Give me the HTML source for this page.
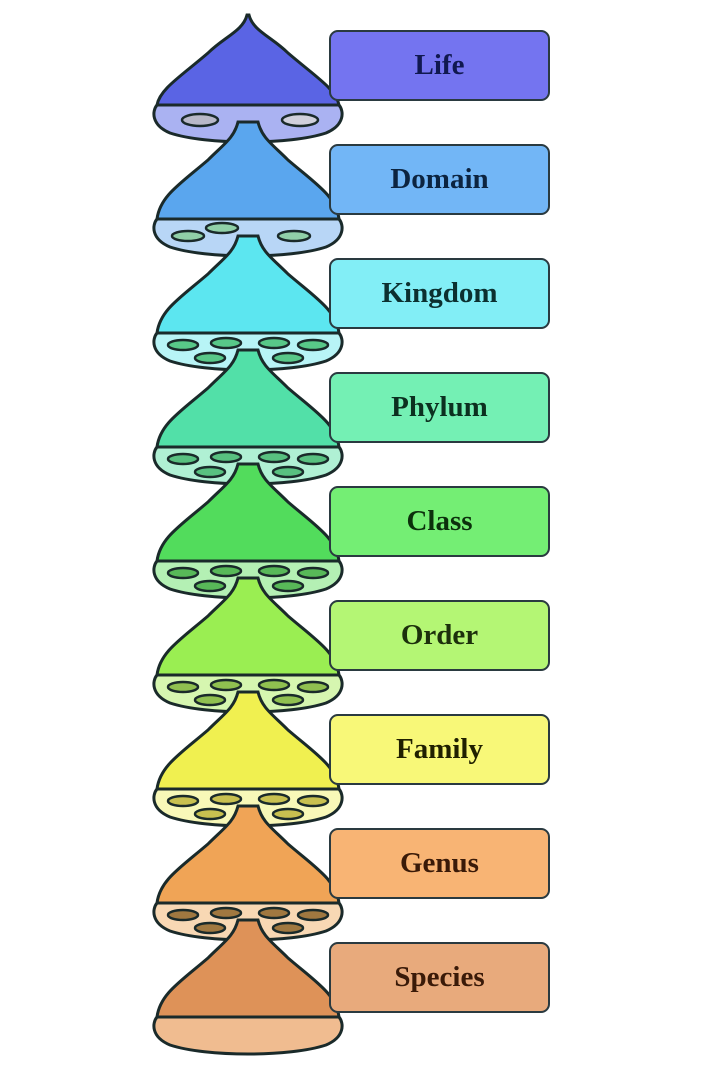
<!DOCTYPE html>
<html><head><meta charset="utf-8"><style>
html,body{margin:0;padding:0;background:#fff;width:720px;height:1068px;overflow:hidden;position:relative}
svg{position:absolute;left:0;top:0}
.b{position:absolute;left:329px;border:2px solid #2a3a40;border-radius:9px;
font-family:"Liberation Serif",serif;font-weight:bold;font-size:29px;color:#14202a;
display:flex;align-items:center;justify-content:center;box-sizing:border-box;width:221px;height:71px}
</style></head><body>
<svg id="s" width="720" height="1068" viewBox="0 0 720 1068"></svg>
<div class="b" style="top:30px;background:#7474f0;color:#101850">Life</div>
<div class="b" style="top:144px;background:#72b6f6;color:#0c2440">Domain</div>
<div class="b" style="top:258px;background:#82eef6;color:#0c3030">Kingdom</div>
<div class="b" style="top:372px;background:#74f0b4;color:#0c3020">Phylum</div>
<div class="b" style="top:486px;background:#74ee74;color:#0c300c">Class</div>
<div class="b" style="top:600px;background:#b4f674;color:#1c300c">Order</div>
<div class="b" style="top:714px;background:#f8f878;color:#202000">Family</div>
<div class="b" style="top:828px;background:#f8b474;color:#3a1a08">Genus</div>
<div class="b" style="top:942px;background:#e8aa7c;color:#3a1a08">Species</div>
<script>
var dome=["#5a64e4","#5aa6ee","#5ce6f0","#52e0a8","#52dc5c","#9aee52","#f0f050","#f0a456","#de9258"];
var lite=["#aab2f2","#b8d6f6","#b8f4f6","#b0f0d4","#b4f0b4","#d6f6b0","#f8f8b8","#f8d8b4","#f0bc90"];
var hole=["#b8b8c8","#90d0a8","#58c888","#58c080","#58b858","#90c050","#c8c050","#a07840",""];
var s="";
for(var k=0;k<9;k++){
 var D=105+114*k, C=122+114*k, T=(k==0?15:D-97);
 var n=(k==0?0:9);
 var st='stroke="#1a2a2a" stroke-width="3"';
 var R='M'+(249+n)+' '+T+' C'+(253+n)+' '+(T+16)+' 272 '+(T+22)+' 288 '+(T+38)+' C316 '+(T+62)+' 336 '+(T+74)+' 339 '+D;
 var L=' L157 '+D+' C160 '+(T+74)+' 180 '+(T+62)+' 208 '+(T+38)+' C224 '+(T+22)+' '+(243-n)+' '+(T+16)+' '+(247-n)+' '+T+'Z';
 s+='<path d="'+R+L+'" fill="'+dome[k]+'" '+st+'/>';
 s+='<path d="M157 '+D+' L339 '+D+' C344 '+(D+6)+' 345 '+(D+20)+' 326 '+(D+28)+' C290 '+(D+40)+' 206 '+(D+40)+' 170 '+(D+28)+' C151 '+(D+20)+' 152 '+(D+6)+' 157 '+D+'Z" fill="'+lite[k]+'" '+st+'/>';
 if(k==0){
  s+='<ellipse cx="200" cy="'+(C-2)+'" rx="18" ry="6" fill="#b8b8c8" stroke="#1a2a2a" stroke-width="2.5"/>';
  s+='<ellipse cx="300" cy="'+(C-2)+'" rx="18" ry="6" fill="#d0d0dc" stroke="#1a2a2a" stroke-width="2.5"/>';
 } else if(k==1){
  [[188,C],[222,C-8],[294,C]].forEach(function(p){s+='<ellipse cx="'+p[0]+'" cy="'+p[1]+'" rx="16" ry="5" fill="'+hole[k]+'" stroke="#1a2a2a" stroke-width="2.5"/>';});
 } else if(k<8){
  [[183,C-5],[226,C-7],[274,C-7],[313,C-5],[210,C+8],[288,C+8]].forEach(function(p){s+='<ellipse cx="'+p[0]+'" cy="'+p[1]+'" rx="15" ry="5" fill="'+hole[k]+'" stroke="#1a2a2a" stroke-width="2.5"/>';});
 }
}
document.getElementById("s").innerHTML=s;
</script>
</body></html>
